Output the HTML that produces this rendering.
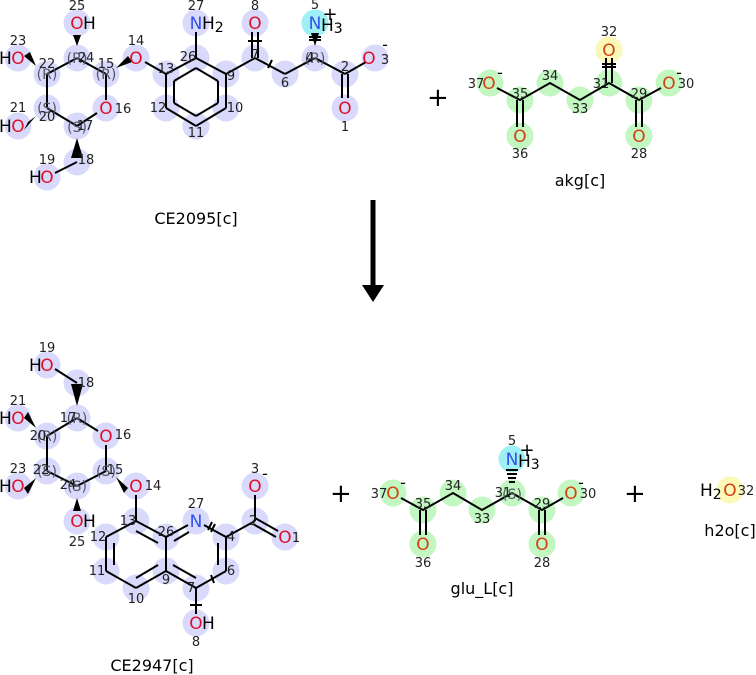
<!DOCTYPE html>
<html><head><meta charset="utf-8"><style>
html,body{margin:0;padding:0;background:#fff;}
svg{display:block;font-family:"DejaVu Sans","Liberation Sans",sans-serif;}
.b{fill:#d9d9fb}.g{fill:#c2f7c2}.c{fill:#9ff0f5}.y{fill:#fbf8b8}
.O{fill:#e0102a;font-size:17px;text-anchor:middle}
.Og{fill:#d44010;font-size:17px;text-anchor:middle}
.N{fill:#3050f0;font-size:17px;text-anchor:middle}
.H{fill:#000;font-size:17px}
.n{fill:#222;font-size:13px;text-anchor:middle}
.s{fill:#556;font-size:14px;text-anchor:middle}
.t{fill:#000;font-size:16px;text-anchor:middle}
line,polyline,polygon.l{stroke:#000;stroke-width:2;fill:none}
</style></head><body>
<svg width="756" height="675" viewBox="0 0 756 675" xmlns="http://www.w3.org/2000/svg">
<g class="b">
<circle cx="77" cy="23" r="13.5"/><circle cx="77" cy="58" r="13.5"/><circle cx="18" cy="58" r="13.5"/><circle cx="47" cy="74" r="13.5"/><circle cx="106" cy="74" r="13.5"/><circle cx="136" cy="58" r="13.5"/><circle cx="47" cy="108" r="13.5"/><circle cx="18" cy="126" r="13.5"/><circle cx="106" cy="108" r="13.5"/><circle cx="77" cy="126" r="13.5"/><circle cx="77" cy="162" r="13.5"/><circle cx="47" cy="177" r="13.5"/><circle cx="166" cy="74" r="13.5"/><circle cx="196" cy="58" r="13.5"/><circle cx="196" cy="23" r="13.5"/><circle cx="226" cy="74" r="13.5"/><circle cx="226" cy="108" r="13.5"/><circle cx="196" cy="126" r="13.5"/><circle cx="166" cy="108" r="13.5"/><circle cx="255" cy="58" r="13.5"/><circle cx="255" cy="23" r="13.5"/><circle cx="285" cy="74" r="13.5"/><circle cx="315" cy="58" r="13.5"/><circle cx="345" cy="74" r="13.5"/><circle cx="375" cy="58" r="13.5"/><circle cx="345" cy="108" r="13.5"/>
</g>
<circle class="c" cx="315" cy="23" r="13.5"/>
<g>
<line x1="47" y1="74" x2="77" y2="58"/><line x1="77" y1="58" x2="106" y2="74"/><line x1="106" y1="74" x2="106" y2="100"/><line x1="97" y1="113" x2="77" y2="126"/><line x1="77" y1="126" x2="47" y2="108"/><line x1="47" y1="108" x2="47" y2="74"/>
<line x1="77" y1="162" x2="55" y2="173"/><line x1="145" y1="62" x2="166" y2="74"/>
<line x1="166" y1="74" x2="196" y2="58"/><line x1="196" y1="58" x2="226" y2="74"/><line x1="226" y1="74" x2="226" y2="108"/><line x1="226" y1="108" x2="196" y2="126"/><line x1="196" y1="126" x2="166" y2="108"/><line x1="166" y1="108" x2="166" y2="74"/>
<line x1="174" y1="81" x2="196" y2="68"/><line x1="196" y1="68" x2="218" y2="81"/><line x1="218" y1="81" x2="218" y2="103"/><line x1="218" y1="103" x2="196" y2="116"/><line x1="196" y1="116" x2="174" y2="103"/><line x1="174" y1="103" x2="174" y2="81"/>
<line x1="196" y1="58" x2="196" y2="32"/>
<line x1="226" y1="74" x2="255" y2="58"/><line x1="255" y1="58" x2="285" y2="74"/><line x1="285" y1="74" x2="315" y2="58"/><line x1="315" y1="58" x2="345" y2="74"/><line x1="345" y1="74" x2="366" y2="62"/>
<line x1="252" y1="58" x2="252" y2="32"/><line x1="258" y1="58" x2="258" y2="32"/>
<line x1="342" y1="74" x2="342" y2="98"/><line x1="348" y1="74" x2="348" y2="98"/>
<line x1="248" y1="41" x2="262" y2="41"/><line x1="268" y1="68" x2="272" y2="60"/>
</g>
<polygon points="77,46 73,35 81,35" fill="#000"/>
<polygon points="36,66 24,56 30,52" fill="#000"/>
<polygon points="36,116 24,130 28,122" fill="#000"/>
<polygon points="77,138 71,158 83,158" fill="#000"/>
<polygon points="116,68 128,56 132,62" fill="#000"/>
<polygon points="315,46 311,33 319,33" fill="#000"/>
<line x1="309" y1="37" x2="321" y2="37"/><line x1="309" y1="40" x2="321" y2="40"/>
<text class="O" x="77" y="29">O</text><text class="H" x="83" y="29">H</text><text class="n" x="77" y="10">25</text>
<text class="s" x="77" y="63">(R)</text><text class="n" x="86" y="62">24</text>
<text class="H" x="-1" y="64">H</text><text class="O" x="18" y="64">O</text><text class="n" x="18" y="45">23</text>
<text class="s" x="47" y="79">(R)</text><text class="n" x="47" y="68">22</text>
<text class="s" x="106" y="79">(R)</text><text class="n" x="106" y="68">15</text>
<text class="O" x="136" y="64">O</text><text class="n" x="136" y="45">14</text>
<text class="s" x="47" y="113">(S)</text><text class="n" x="47" y="121">20</text>
<text class="H" x="-1" y="132">H</text><text class="O" x="18" y="132">O</text><text class="n" x="18" y="112">21</text>
<text class="O" x="106" y="114">O</text><text class="n" x="123" y="113">16</text>
<text class="s" x="77" y="132">(S)</text><text class="n" x="85" y="130">17</text>
<text class="n" x="86" y="164">18</text><text class="n" x="47" y="164">19</text>
<text class="H" x="29" y="183">H</text><text class="O" x="47" y="183">O</text>
<text class="n" x="166" y="73">13</text><text class="n" x="188" y="61">26</text><text class="n" x="231" y="80">9</text><text class="n" x="235" y="112">10</text><text class="n" x="196" y="137">11</text><text class="n" x="158" y="112">12</text>
<text class="N" x="196" y="29">N</text><text class="H" x="202" y="29">H<tspan font-size="14" dy="3">2</tspan></text><text class="n" x="196" y="10">27</text>
<text class="O" x="255" y="29">O</text><text class="n" x="255" y="10">8</text><text class="n" x="255" y="59">7</text>
<text class="n" x="285" y="87">6</text>
<text class="s" x="315" y="63">(R)</text><text class="n" x="310" y="62">4</text>
<text class="N" x="315" y="29">N</text><text class="H" x="321" y="31">H<tspan font-size="14" dy="2">3</tspan></text><text class="n" x="315" y="9">5</text><text class="t" x="330" y="20" style="font-size:18px">+</text>
<text class="n" x="345" y="71">2</text><text class="O" x="369" y="64">O</text><text class="n" x="385" y="64">3</text><text class="t" x="385" y="50">-</text>
<text class="O" x="345" y="114">O</text><text class="n" x="345" y="131">1</text>
<text class="t" x="196" y="224">CE2095[c]</text>
<text style="font-size:26px" x="427" y="106">+</text>
<circle class="y" cx="609" cy="50" r="13.5"/>
<g class="g"><circle cx="490" cy="83" r="13.5"/><circle cx="520" cy="100" r="13.5"/><circle cx="520" cy="136" r="13.5"/><circle cx="550" cy="83" r="13.5"/><circle cx="580" cy="100" r="13.5"/><circle cx="609" cy="83" r="13.5"/><circle cx="639" cy="100" r="13.5"/><circle cx="639" cy="136" r="13.5"/><circle cx="669" cy="83" r="13.5"/></g>
<polyline points="497,88 520,100 550,83 580,100 609,83 639,100 661,88"/>
<line x1="517" y1="100" x2="517" y2="127"/><line x1="523" y1="100" x2="523" y2="127"/>
<line x1="636" y1="100" x2="636" y2="127"/><line x1="642" y1="100" x2="642" y2="127"/>
<line x1="606" y1="83" x2="606" y2="58"/><line x1="612" y1="83" x2="612" y2="58"/>
<line x1="602" y1="64" x2="616" y2="64"/><line x1="602" y1="67" x2="616" y2="67"/>
<text class="Og" x="489" y="89">O</text><text class="n" x="476" y="88">37</text><text class="t" x="500" y="78">-</text>
<text class="n" x="520" y="98">35</text><text class="n" x="550" y="80">34</text><text class="n" x="580" y="113">33</text><text class="n" x="601" y="88">31</text><text class="n" x="639" y="98">29</text>
<text class="Og" x="609" y="56">O</text><text class="n" x="609" y="36">32</text>
<text class="Og" x="669" y="89">O</text><text class="n" x="686" y="88">30</text><text class="t" x="679" y="78">-</text>
<text class="Og" x="520" y="142">O</text><text class="n" x="520" y="158">36</text>
<text class="Og" x="639" y="142">O</text><text class="n" x="639" y="158">28</text>
<text class="t" x="580" y="186">akg[c]</text>
<line x1="373" y1="200" x2="373" y2="285" style="stroke-width:5"/>
<polygon points="362,285 384,285 373,302" fill="#000"/>
<g class="b">
<circle cx="47" cy="365" r="13.5"/><circle cx="77" cy="383" r="13.5"/><circle cx="77" cy="418" r="13.5"/><circle cx="106" cy="436" r="13.5"/><circle cx="47" cy="436" r="13.5"/><circle cx="18" cy="418" r="13.5"/><circle cx="47" cy="471" r="13.5"/><circle cx="18" cy="486" r="13.5"/><circle cx="77" cy="486" r="13.5"/><circle cx="77" cy="521" r="13.5"/><circle cx="106" cy="471" r="13.5"/><circle cx="136" cy="486" r="13.5"/><circle cx="136" cy="521" r="13.5"/><circle cx="106" cy="537" r="13.5"/><circle cx="106" cy="571" r="13.5"/><circle cx="136" cy="588" r="13.5"/><circle cx="166" cy="571" r="13.5"/><circle cx="166" cy="537" r="13.5"/><circle cx="196" cy="521" r="13.5"/><circle cx="226" cy="537" r="13.5"/><circle cx="226" cy="571" r="13.5"/><circle cx="196" cy="588" r="13.5"/><circle cx="196" cy="623" r="13.5"/><circle cx="255" cy="521" r="13.5"/><circle cx="255" cy="486" r="13.5"/><circle cx="285" cy="537" r="13.5"/>
</g>
<g>
<line x1="55" y1="369" x2="77" y2="383"/>
<line x1="77" y1="418" x2="98" y2="431"/><line x1="106" y1="445" x2="106" y2="471"/><line x1="106" y1="471" x2="77" y2="486"/><line x1="77" y1="486" x2="47" y2="471"/><line x1="47" y1="471" x2="47" y2="436"/><line x1="47" y1="436" x2="77" y2="418"/>
<line x1="136" y1="495" x2="136" y2="521"/>
<line x1="136" y1="521" x2="166" y2="537"/><line x1="166" y1="537" x2="166" y2="571"/><line x1="166" y1="571" x2="136" y2="588"/><line x1="136" y1="588" x2="106" y2="571"/><line x1="106" y1="571" x2="106" y2="537"/><line x1="106" y1="537" x2="136" y2="521"/>
<line x1="136" y1="531" x2="158" y2="543"/><line x1="158" y1="565" x2="136" y2="578"/><line x1="114" y1="565" x2="114" y2="543"/>
<line x1="166" y1="537" x2="188" y2="525"/><line x1="204" y1="525" x2="226" y2="537"/><line x1="226" y1="537" x2="226" y2="571"/><line x1="226" y1="571" x2="196" y2="588"/><line x1="196" y1="588" x2="166" y2="571"/>
<line x1="174" y1="541" x2="189" y2="532"/><line x1="218" y1="543" x2="218" y2="565"/><line x1="173" y1="565" x2="196" y2="578"/>
<line x1="196" y1="588" x2="196" y2="614"/><line x1="190" y1="605" x2="202" y2="605"/><line x1="211" y1="575" x2="214" y2="583"/>
<line x1="208" y1="530" x2="212" y2="522"/><line x1="211" y1="532" x2="215" y2="524"/>
<line x1="226" y1="537" x2="255" y2="521"/><line x1="255" y1="521" x2="255" y2="495"/><line x1="255" y1="518" x2="278" y2="531"/><line x1="253" y1="524" x2="276" y2="537"/>
</g>
<polygon points="77,406 71,384 83,384" fill="#000"/>
<polygon points="36,428 24,418 28,412" fill="#000"/>
<polygon points="36,478 24,488 28,494" fill="#000"/>
<polygon points="77,498 73,511 81,511" fill="#000"/>
<polygon points="116,477 128,488 124,493" fill="#000"/>
<text class="H" x="29" y="371">H</text><text class="O" x="47" y="371">O</text><text class="n" x="47" y="352">19</text>
<text class="n" x="86" y="387">18</text>
<text class="s" x="77" y="423">(R)</text><text class="n" x="68" y="422">17</text>
<text class="O" x="106" y="442">O</text><text class="n" x="123" y="439">16</text>
<text class="H" x="-1" y="424">H</text><text class="O" x="18" y="424">O</text><text class="n" x="18" y="405">21</text>
<text class="s" x="47" y="441">(R)</text><text class="n" x="38" y="440">20</text>
<text class="H" x="-1" y="492">H</text><text class="O" x="18" y="492">O</text><text class="n" x="18" y="473">23</text>
<text class="s" x="47" y="476">(S)</text><text class="n" x="41" y="474">22</text>
<text class="s" x="77" y="491">(S)</text><text class="n" x="68" y="489">24</text>
<text class="O" x="77" y="527">O</text><text class="H" x="83" y="527">H</text><text class="n" x="77" y="546">25</text>
<text class="s" x="106" y="476">(S)</text><text class="n" x="115" y="474">15</text>
<text class="O" x="136" y="492">O</text><text class="n" x="153" y="490">14</text>
<text class="n" x="128" y="525">13</text><text class="n" x="98" y="541">12</text><text class="n" x="97" y="575">11</text><text class="n" x="136" y="603">10</text><text class="n" x="166" y="584">9</text><text class="n" x="166" y="536">26</text>
<text class="N" x="196" y="527">N</text><text class="n" x="196" y="508">27</text>
<text class="n" x="231" y="541">4</text><text class="n" x="231" y="575">6</text><text class="n" x="191" y="592">7</text>
<text class="O" x="196" y="629">O</text><text class="H" x="202" y="629">H</text><text class="n" x="196" y="646">8</text>
<text class="n" x="253" y="525">2</text>
<text class="O" x="255" y="492">O</text><text class="n" x="255" y="473">3</text><text class="t" x="265" y="479">-</text>
<text class="O" x="285" y="543">O</text><text class="n" x="296" y="542">1</text>
<text class="t" x="152" y="671">CE2947[c]</text>
<text style="font-size:26px" x="330" y="502">+</text>
<circle class="c" cx="512" cy="459" r="13.5"/>
<g class="g"><circle cx="393" cy="493" r="13.5"/><circle cx="423" cy="510" r="13.5"/><circle cx="423" cy="544" r="13.5"/><circle cx="453" cy="493" r="13.5"/><circle cx="482" cy="510" r="13.5"/><circle cx="512" cy="493" r="13.5"/><circle cx="542" cy="510" r="13.5"/><circle cx="542" cy="544" r="13.5"/><circle cx="571" cy="493" r="13.5"/></g>
<polyline points="401,498 423,510 453,493 482,510 512,493 542,510 563,498"/>
<line x1="420" y1="510" x2="420" y2="535"/><line x1="426" y1="510" x2="426" y2="535"/>
<line x1="539" y1="510" x2="539" y2="535"/><line x1="545" y1="510" x2="545" y2="535"/>
<g stroke="#000" stroke-width="1.5"><line x1="506" y1="470" x2="518" y2="470"/><line x1="507" y1="474" x2="517" y2="474"/><line x1="508" y1="478" x2="516" y2="478"/><line x1="509" y1="482" x2="515" y2="482"/></g>
<text class="Og" x="393" y="499">O</text><text class="n" x="379" y="498">37</text><text class="t" x="403" y="488">-</text>
<text class="n" x="423" y="508">35</text><text class="n" x="453" y="490">34</text><text class="n" x="482" y="523">33</text><text class="s" x="512" y="499">(S)</text><text class="n" x="503" y="497">31</text><text class="n" x="542" y="508">29</text>
<text class="N" x="512" y="465">N</text><text class="H" x="518" y="467">H<tspan font-size="14" dy="2">3</tspan></text><text class="n" x="512" y="445">5</text><text class="t" x="527" y="456" style="font-size:18px">+</text>
<text class="Og" x="571" y="499">O</text><text class="n" x="588" y="498">30</text><text class="t" x="581" y="488">-</text>
<text class="Og" x="423" y="550">O</text><text class="n" x="423" y="567">36</text>
<text class="Og" x="542" y="550">O</text><text class="n" x="542" y="567">28</text>
<text class="t" x="482" y="594">glu_L[c]</text>
<text style="font-size:26px" x="624" y="502">+</text>
<circle class="y" cx="730" cy="490" r="13.5"/>
<text class="H" x="700" y="496">H<tspan font-size="14" dy="3">2</tspan></text><text class="Og" x="730" y="496">O</text><text class="n" x="746" y="495">32</text>
<text class="t" x="730" y="536">h2o[c]</text>
</svg>
</body></html>
